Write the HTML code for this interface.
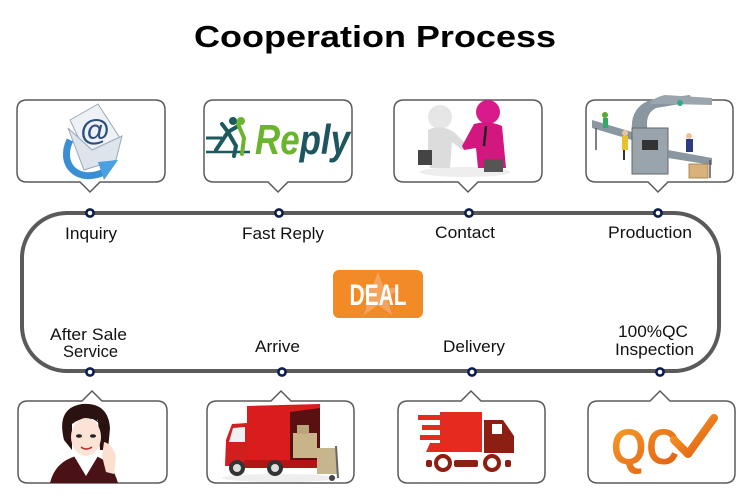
<!DOCTYPE html>
<html>
<head>
<meta charset="utf-8">
<style>
html,body{margin:0;padding:0;background:#fff;}
svg{display:block;}
text{font-family:"Liberation Sans",Arial,sans-serif;}
</style>
</head>
<body>
<svg width="750" height="500" viewBox="0 0 750 500" xmlns="http://www.w3.org/2000/svg">
<rect width="750" height="500" fill="#fff"/>

<!-- Title -->
<text x="375" y="47" font-size="31" font-weight="bold" text-anchor="middle" textLength="362" lengthAdjust="spacingAndGlyphs" fill="#000">Cooperation Process</text>

<!-- Loop -->
<rect x="22" y="213" width="697" height="158" rx="45" ry="45" fill="none" stroke="#5a5a5a" stroke-width="4"/>

<!-- Boxes -->
<g fill="#fff" stroke="#5a5a5a" stroke-width="1.5">
<path d="M27,100 H155 Q165,100 165,110 V172 Q165,182 155,182 H100 L90,192 L80,182 H27 Q17,182 17,172 V110 Q17,100 27,100 Z"/>
<path d="M214,100 H342 Q352,100 352,110 V172 Q352,182 342,182 H288 L278,192 L268,182 H214 Q204,182 204,172 V110 Q204,100 214,100 Z"/>
<path d="M404,100 H532 Q542,100 542,110 V172 Q542,182 532,182 H478 L468,192 L458,182 H404 Q394,182 394,172 V110 Q394,100 404,100 Z"/>
<path d="M596,100 H723 Q733,100 733,110 V172 Q733,182 723,182 H668 L658,192 L648,182 H596 Q586,182 586,172 V110 Q586,100 596,100 Z"/>
<path d="M28,401 H82 L92,391 L102,401 H157 Q167,401 167,411 V473 Q167,483 157,483 H28 Q18,483 18,473 V411 Q18,401 28,401 Z"/>
<path d="M217,401 H271 L281,391 L291,401 H344 Q354,401 354,411 V473 Q354,483 344,483 H217 Q207,483 207,473 V411 Q207,401 217,401 Z"/>
<path d="M408,401 H461 L471,391 L481,401 H535 Q545,401 545,411 V473 Q545,483 535,483 H408 Q398,483 398,473 V411 Q398,401 408,401 Z"/>
<path d="M598,401 H650 L660,391 L670,401 H725 Q735,401 735,411 V473 Q735,483 725,483 H598 Q588,483 588,473 V411 Q588,401 598,401 Z"/>
</g>

<!-- Dots -->
<g fill="#fff" stroke="#0b1d4d" stroke-width="2.6">
<circle cx="90" cy="213" r="3.6"/>
<circle cx="279" cy="213" r="3.6"/>
<circle cx="469" cy="213" r="3.6"/>
<circle cx="658" cy="213" r="3.6"/>
<circle cx="90" cy="372" r="3.6"/>
<circle cx="282" cy="372" r="3.6"/>
<circle cx="472" cy="372" r="3.6"/>
<circle cx="660" cy="372" r="3.6"/>
</g>

<!-- Labels -->
<g font-size="16.5" fill="#111" text-anchor="middle">
<text x="91" y="239" textLength="52" lengthAdjust="spacingAndGlyphs">Inquiry</text>
<text x="283" y="239" textLength="82" lengthAdjust="spacingAndGlyphs">Fast Reply</text>
<text x="465" y="238" textLength="60" lengthAdjust="spacingAndGlyphs">Contact</text>
<text x="650" y="238" textLength="84" lengthAdjust="spacingAndGlyphs">Production</text>
<text x="88.5" y="340" textLength="77" lengthAdjust="spacingAndGlyphs">After Sale</text>
<text x="90.5" y="357" textLength="55" lengthAdjust="spacingAndGlyphs">Service</text>
<text x="277.5" y="352" textLength="45" lengthAdjust="spacingAndGlyphs">Arrive</text>
<text x="474" y="352" textLength="62" lengthAdjust="spacingAndGlyphs">Delivery</text>
<text x="653" y="337" textLength="70" lengthAdjust="spacingAndGlyphs">100%QC</text>
<text x="654.5" y="355" textLength="79" lengthAdjust="spacingAndGlyphs">Inspection</text>
</g>

<!-- DEAL badge -->
<rect x="333" y="270" width="90" height="48" rx="6" fill="#f28a25"/>
<polygon points="378,272 384,288 400,288 387,298 392,315 378,305 364,315 369,298 356,288 372,288" fill="#f5a460"/>
<text x="378" y="305" font-size="30" font-weight="bold" fill="#fff" text-anchor="middle" textLength="57" lengthAdjust="spacingAndGlyphs">DEAL</text>

<!-- Email icon -->
<g>
<polygon points="70,120 98,104 120,138 88,158" fill="#eef2f7" stroke="#9aa8b8" stroke-width="1"/>
<text x="95" y="140" font-size="30" font-weight="bold" fill="#2c4f7c" text-anchor="middle">@</text>
<polygon points="68,128 92,150 122,136 116,160 84,170" fill="#dde4ec" stroke="#9aa8b8" stroke-width="1"/>
<path d="M70,140 C58,165 78,184 104,172" fill="none" stroke="#3a8fd4" stroke-width="7"/>
<polygon points="98,162 118,160 104,180" fill="#4aa0e0"/>
</g>

<!-- Reply icon -->
<g>
<line x1="206" y1="152" x2="250" y2="152" stroke="#1d5a5e" stroke-width="2.5"/>
<line x1="206" y1="138" x2="222" y2="138" stroke="#1d5a5e" stroke-width="3"/>
<path d="M216,150 L228,132 L238,126 M228,132 L236,146 L234,156 M228,132 L222,124" fill="none" stroke="#1d5a5e" stroke-width="4" stroke-linecap="round"/>
<circle cx="233" cy="121" r="4" fill="#1d5a5e"/>
<path d="M238,124 L244,138 L242,154" fill="none" stroke="#6ab42e" stroke-width="4" stroke-linecap="round"/>
<circle cx="241" cy="121" r="4" fill="#6ab42e"/>
<text x="255" y="154" font-size="42" font-weight="bold" font-style="italic" textLength="95" lengthAdjust="spacingAndGlyphs"><tspan fill="#6ab42e">Re</tspan><tspan fill="#1d5560">ply</tspan></text>
</g>

<!-- Handshake icon -->
<g>
<ellipse cx="465" cy="172" rx="45" ry="5" fill="#eee"/>
<circle cx="440" cy="117" r="12" fill="#e6e6e6"/>
<path d="M428,130 Q440,124 454,132 L468,146 L462,150 L452,142 L450,168 L430,168 L428,150 Z" fill="#dcdcdc"/>
<circle cx="488" cy="112" r="12" fill="#d81b8c"/>
<path d="M474,124 Q488,120 502,126 L506,168 L478,168 L476,148 L464,150 L462,146 Z" fill="#d2177f"/>
<line x1="486" y1="126" x2="484" y2="146" stroke="#222" stroke-width="2.5"/>
<rect x="418" y="150" width="14" height="15" fill="#444"/>
<rect x="484" y="159" width="19" height="13" fill="#555"/>
</g>

<!-- Production icon -->
<g>
<polygon points="592,120 632,132 632,140 592,128" fill="#8a96a0"/>
<line x1="596" y1="128" x2="596" y2="150" stroke="#555" stroke-width="1.5"/>
<line x1="624" y1="137" x2="624" y2="160" stroke="#555" stroke-width="1.5"/>
<path d="M632,130 Q630,108 650,100 L690,95 L692,102 L656,108 Q644,114 648,132 Z" fill="#8a96a0"/>
<path d="M650,104 Q652,98 665,95 L712,98 L712,105 L668,104 Z" fill="#9aa5ae"/>
<rect x="632" y="128" width="36" height="46" fill="#9aa4ad" stroke="#666" stroke-width="1"/>
<rect x="642" y="140" width="16" height="10" fill="#333"/>
<polygon points="668,150 712,158 712,165 668,158" fill="#8a96a0"/>
<line x1="710" y1="160" x2="710" y2="178" stroke="#555" stroke-width="1.5"/>
<rect x="689" y="164" width="19" height="14" fill="#d8b27a" stroke="#a07840" stroke-width="0.8"/>
<circle cx="605" cy="115" r="3" fill="#5a3" />
<rect x="603" y="118" width="5" height="10" fill="#3a6"/>
<circle cx="625" cy="133" r="3" fill="#e9c49a"/>
<rect x="622" y="136" width="6" height="14" fill="#e8c030"/>
<line x1="624" y1="150" x2="624" y2="160" stroke="#333" stroke-width="2"/>
<circle cx="689" cy="136" r="3" fill="#e9c49a"/>
<rect x="686" y="139" width="7" height="13" fill="#2d3d80"/>
<circle cx="680" cy="103" r="3" fill="#3a8"/>
</g>

<!-- Woman icon -->
<g>
<path d="M64,440 Q56,408 82,404 Q108,402 110,428 L108,450 L100,450 L98,420 Q82,416 72,424 L72,450 Z" fill="#2a1210"/>
<ellipse cx="86" cy="437" rx="15" ry="19" fill="#fbe4d6"/>
<path d="M70,424 Q84,410 100,424 Q94,414 84,413 Q74,414 70,424 Z" fill="#2a1210"/>
<ellipse cx="79" cy="436" rx="3" ry="1.8" fill="#222"/>
<ellipse cx="93" cy="436" rx="3" ry="1.8" fill="#222"/>
<path d="M81,447 Q86,451 92,447" fill="none" stroke="#c03030" stroke-width="1.6"/>
<path d="M50,483 Q55,462 76,456 L96,456 Q112,462 118,483 Z" fill="#4a1216"/>
<path d="M74,456 L86,476 L98,456 Z" fill="#fff"/>
<path d="M104,442 Q112,444 116,456 L114,474 L106,472 L102,456 Z" fill="#fbe0d0"/>
</g>

<!-- Truck icon -->
<g>
<ellipse cx="280" cy="478" rx="58" ry="4" fill="#eee"/>
<polygon points="247,406 320,404 320,460 247,463" fill="#d91c1c"/>
<polygon points="290,412 320,408 320,460 290,460" fill="#5a1010"/>
<rect x="293" y="433" width="24" height="25" fill="#c9b48a"/>
<rect x="297" y="425" width="12" height="9" fill="#bba57a"/>
<path d="M247,423 L232,424 L226,440 L225,466 L247,466 Z" fill="#d21e1e"/>
<polygon points="233,428 245,427 245,442 229,442" fill="#f0f0f0"/>
<rect x="244" y="460" width="76" height="8" fill="#b01616"/>
<circle cx="237" cy="468" r="8" fill="#333"/><circle cx="237" cy="468" r="4" fill="#ddd"/>
<circle cx="275" cy="468" r="8" fill="#333"/><circle cx="275" cy="468" r="4" fill="#ddd"/>
<rect x="317" y="448" width="20" height="26" fill="#c7b58e"/>
<line x1="336" y1="446" x2="338" y2="478" stroke="#666" stroke-width="2"/>
<circle cx="332" cy="478" r="3" fill="#444"/>
</g>

<!-- Delivery icon -->
<g>
<rect x="418" y="415" width="22" height="5" fill="#e52b20"/>
<rect x="422" y="425" width="20" height="5" fill="#e52b20"/>
<rect x="420" y="435" width="22" height="5" fill="#e52b20"/>
<polygon points="440,412 482,412 482,452 426,452 430,443 440,443" fill="#e52b20"/>
<path d="M484,420 L503,420 L514,436 L514,453 L484,453 Z" fill="#8c1e12"/>
<rect x="492" y="424" width="10" height="10" fill="#fff"/>
<rect x="426" y="460" width="6" height="7" rx="2" fill="#8c1e12"/>
<circle cx="443" cy="463" r="7" fill="none" stroke="#8c1e12" stroke-width="4"/>
<rect x="454" y="460" width="24" height="7" rx="2" fill="#8c1e12"/>
<circle cx="492" cy="463" r="7" fill="none" stroke="#8c1e12" stroke-width="4"/>
<rect x="505" y="460" width="6" height="7" rx="2" fill="#8c1e12"/>
</g>

<!-- QC icon -->
<g>
<defs>
<linearGradient id="qg" x1="0" y1="0" x2="1" y2="1">
<stop offset="0" stop-color="#f7a02a"/>
<stop offset="1" stop-color="#e05a10"/>
</linearGradient>
</defs>
<text x="611" y="464" font-size="50" font-weight="bold" fill="url(#qg)" textLength="68" lengthAdjust="spacingAndGlyphs">QC</text>
<path d="M674,440 L688,454 L714,418" fill="none" stroke="url(#qg)" stroke-width="8" stroke-linecap="round" stroke-linejoin="round"/>
</g>

</svg>
</body>
</html>
